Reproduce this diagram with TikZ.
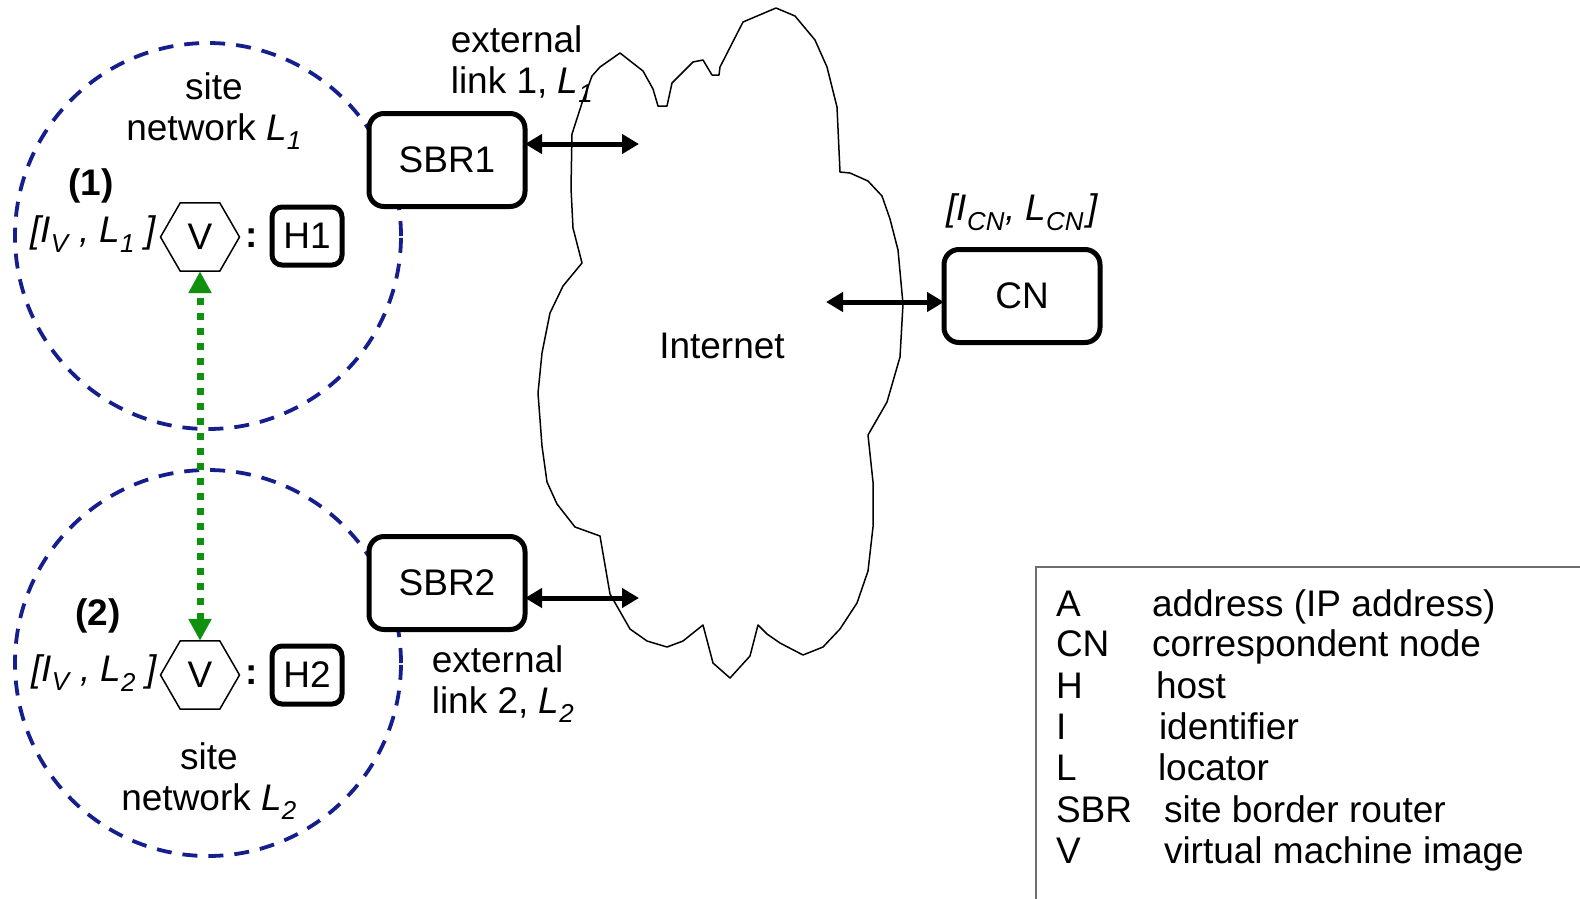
\documentclass[tikz,border=0pt]{standalone}
\usepackage{fontspec}
\setmainfont{Liberation Sans}
\usetikzlibrary{arrows.meta,shapes.geometric}
\definecolor{sitenavy}{RGB}{20,30,140}
\definecolor{migrate}{RGB}{15,145,15}
\definecolor{legendgray}{RGB}{110,110,110}
\newcommand{\sbs}[1]{\textsubscript{\textit{#1}}}

\begin{document}
\begin{tikzpicture}[x=1pt,y=-1pt,
  every node/.style={font=\fontsize{37}{41}\selectfont, inner sep=0pt, outer sep=0pt},
  router/.style={draw, fill=white, line width=5pt, rounded corners=15pt, minimum width=156pt, minimum height=93pt},
  hostbox/.style={draw, fill=white, line width=5pt, rounded corners=10pt, minimum width=70pt, minimum height=58pt},
  vm/.style={draw, fill=white, line width=1.5pt, regular polygon, regular polygon sides=6, minimum size=79pt},
  sitenet/.style={draw=sitenavy, circle, dash pattern=on 15pt off 11pt, line width=3.8pt, minimum size=386pt},
  extlink/.style={line width=5pt, {Triangle[length=17pt,width=19pt]}-{Triangle[length=17pt,width=19pt]}},
  vmmove/.style={draw=migrate, line width=7pt, dash pattern=on 7pt off 8pt,
    {Triangle[length=22pt,width=22pt,fill=migrate]}-{Triangle[length=22pt,width=22pt,fill=migrate]}},
  legend/.style={anchor=base west}
]
\useasboundingbox (0,0) rectangle (1580,898);

% the Internet cloud
\draw[line width=1.5pt, line join=round]
  (600,67) -- (620,53) -- (643,71) -- (653,89) -- (658,106) -- (667,106) -- (672,83)
  -- (693,62) -- (703,60) -- (712,75) -- (719,75) -- (720,67) -- (743,22) -- (776,8)
  -- (795,16) -- (815,40) -- (827,67) -- (837,107) -- (840,172) -- (850,173) -- (868,181)
  -- (882,196) -- (890,219) -- (898,250) -- (903,304) -- (900,357) -- (887,402) -- (868,435)
  -- (873,482) -- (873,527) -- (868,571) -- (857,603) -- (840,629) -- (823,647) -- (803,655)
  -- (780,643) -- (767,634) -- (758,625) -- (750,656) -- (730,678) -- (713,663) -- (703,625)
  -- (683,641) -- (667,647) -- (647,641) -- (630,629) -- (610,594) -- (600,536) -- (575,527)
  -- (557,504) -- (547,482) -- (542,446) -- (538,393) -- (542,353) -- (550,313) -- (563,286)
  -- (582,263) -- (573,228) -- (571,188) -- (572,134) -- (582,103) -- (592,76) -- cycle;
\node (inet) at (722,346) {Internet};

% site networks
\node[sitenet] (site1) at (208,236) {};
\node[sitenet] (site2) at (208,663) {};
\node[align=center] (site1lbl) at (214,111) {site\\network \textit{L}\sbs{1}};
\node[align=center] (site2lbl) at (209,781) {site\\network \textit{L}\sbs{2}};

% virtual machine before and after the move
\node[font=\fontsize{37}{41}\selectfont\bfseries] (step1) at (91,186) {(1)};
\node[font=\fontsize{37}{41}\selectfont\bfseries] (step2) at (98,616) {(2)};
\node[vm] (v1) at (200,237) {V};
\node[vm] (v2) at (200,675) {V};
\node[font=\fontsize{37}{41}\selectfont\itshape] (id1) at (93,234) {[I\sbs{V} , L\sbs{1} ]};
\node[font=\fontsize{37}{41}\selectfont\itshape] (id2) at (94,673) {[I\sbs{V} , L\sbs{2} ]};
\node[font=\fontsize{37}{41}\selectfont\bfseries] (col1) at (252,238) {:};
\node[font=\fontsize{37}{41}\selectfont\bfseries] (col2) at (252,675) {:};
\node[hostbox] (h1) at (307,236) {H1};
\node[hostbox] (h2) at (307,675) {H2};
\draw[vmmove] (v2.north) -- (v1.south);

% border routers and correspondent node
\node[router] (sbr1) at (447,160) {SBR1};
\node[router] (sbr2) at (447,583) {SBR2};
\node[router] (cn) at (1022,296) {CN};
\node[font=\fontsize{37}{41}\selectfont\itshape] (cnid) at (1022,212) {[I\sbs{CN}, L\sbs{CN}\kern3pt]};

\node[align=left] (link1lbl) at (522,64) {external\\link 1, \textit{L}\sbs{1}};
\node[align=left] (link2lbl) at (503,684) {external\\link 2, \textit{L}\sbs{2}};

\coordinate (e1) at (639,144);
\coordinate (e2) at (639,598);
\coordinate (e3) at (826,302);
\draw[extlink] (sbr1.east |- e1) -- (e1);
\draw[extlink] (sbr2.east |- e2) -- (e2);
\draw[extlink] (e3) -- (cn.west |- e3);

% legend
\draw[legendgray, line width=1.5pt] (1036,900) |- (1582,567);
\node[legend] (kA) at (1056,616) {A};
\node[legend] (kCN) at (1056,656) {CN};
\node[legend] (kH) at (1056,698) {H};
\node[legend] (kI) at (1056,739) {I};
\node[legend] (kL) at (1056,780) {L};
\node[legend] (kSBR) at (1056,822) {SBR};
\node[legend] (kV) at (1056,863) {V};
\node[legend] (dA) at (1152,616) {address (IP address)};
\node[legend] (dCN) at (1152,656) {correspondent node};
\node[legend] (dH) at (1156,698) {host};
\node[legend] (dI) at (1159,739) {identifier};
\node[legend] (dL) at (1158,780) {locator};
\node[legend] (dSBR) at (1164,822) {site border router};
\node[legend] (dV) at (1164,863) {virtual machine image};
\end{tikzpicture}
\end{document}
